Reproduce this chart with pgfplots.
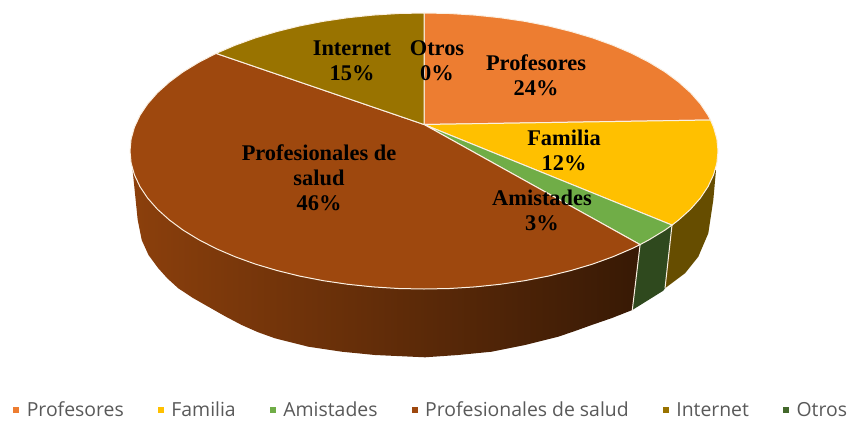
\documentclass[border=0pt]{standalone}
\usepackage{fontspec}
\setmainfont{Liberation Serif}
\newfontfamily\legendfont{Open Sans}
\usepackage{pgfplots}
\pgfplotsset{compat=1.18}
\definecolor{cProf}{HTML}{ED7D31}
\definecolor{cFam}{HTML}{FFC000}
\definecolor{cAmi}{HTML}{70AD47}
\definecolor{cSal}{HTML}{9E480E}
\definecolor{cInt}{HTML}{997300}
\definecolor{cOtr}{HTML}{43682B}
\definecolor{edge}{HTML}{FBF0E2}
\newcommand{\lab}{\bfseries\fontsize{22.4}{25}\selectfont}
\begin{document}
\begin{tikzpicture}
\begin{axis}[
  scale only axis, width=849pt, height=421pt,
  xmin=0, xmax=849, ymin=0, ymax=421, y dir=reverse,
  hide axis, no markers,
  legend columns=6,
  legend cell align=left,
  legend image code/.code={\fill[#1] (0pt,-2.6pt) rectangle (5.2pt,2.6pt);},
  legend style={draw=none, fill=none, at={(axis cs:13,410)}, anchor=west,
    inner xsep=0pt, inner ysep=0pt,
    font=\legendfont\fontsize{19.4}{20}\selectfont\color[HTML]{595959},
    /tikz/every even column/.append style={column sep=32pt},
    /tikz/every odd column/.append style={column sep=6pt}},
]
\addlegendimage{cProf}
\addlegendimage{cFam}
\addlegendimage{cAmi}
\addlegendimage{cSal}
\addlegendimage{cInt}
\addlegendimage{cOtr}
% side wall: Profesionales de salud
\addplot[forget plot, draw=none, left color=cSal!88!black, middle color=cSal!50!black, right color=cSal!35!black] coordinates {
(132.6,170)(134.5,175)(140,186.7)(147.7,198.2)(157.5,209.3)(169.4,220)(183.2,230.2)(198.8,239.7)(216.1,248.6)(235,256.7)(255.4,264.1)(277,270.5)(299.7,276.1)(323.4,280.7)(347.9,284.3)(373,286.9)(398.4,288.5)(424,289)(449.6,288.5)(475,286.9)(500.1,284.3)(524.6,280.7)(548.3,276.1)(571,270.5)(592.6,264.1)(613,256.7)(631.9,248.6)(640.1,244.6)
(632.3,310)(612,318)(591.7,325)(575,331)(558.3,336.7)(525,345)(491.7,351.7)(458,355)(425,357.3)(375,355)(341.7,351.7)(308.3,346.7)(275,338.3)(258,332.2)(241.7,325)(225,316.2)(208.3,306.7)(193,298)(178.3,288.3)(167.5,278.5)(158.3,268.3)(148.5,255)(141.7,240)(137.7,220)
} -- cycle;
% side wall: Otros / Amistades
\addplot[forget plot, draw=none, fill=cOtr!70!black] coordinates {
(640.1,244.6)(649.2,239.7)(664.8,230.2)(672,225.1)(665,288.3)(663.3,290.7)(650,299)(632.3,310)
} -- cycle;
% side wall: Familia
\addplot[forget plot, draw=none, fill=cFam!40!black] coordinates {
(672,225.1)(678.6,220)(690.5,209.3)(700.3,198.2)(708,186.7)(713.5,175)(715.2,170)(716,170)(713.3,200)(708.3,233.3)(698.3,256.7)(685,273.3)(665,288.3)
} -- cycle;
\addplot[forget plot, edge, line width=1pt] coordinates {(640.1,244.6)(632.3,310)};
\addplot[forget plot, edge, line width=1pt] coordinates {(672,225.1)(665,288.3)};
% top surface
\addplot[forget plot, fill=cProf, draw=edge, line width=1pt] coordinates {
(424,124.5)(424,13)(449.6,13.5)(475,15.1)(500.1,17.7)(524.6,21.3)(548.3,25.9)(571,31.5)(592.6,37.9)(613,45.3)(631.9,53.4)(649.2,62.3)(664.8,71.8)(678.6,82)(690.5,92.7)(700.3,103.8)(708,115.3)(710.5,120)
} -- cycle;
\addplot[forget plot, fill=cFam, draw=edge, line width=1pt] coordinates {
(424,124.5)(710.5,120)(713.5,127)(716.9,139)(718,151)(716.9,163)(713.5,175)(708,186.7)(700.3,198.2)(690.5,209.3)(678.6,220)(672,225.1)
} -- cycle;
\addplot[forget plot, fill=cAmi, draw=edge, line width=1pt] coordinates {
(424,124.5)(672,225.1)(664.8,230.2)(649.2,239.7)(640.1,244.6)
} -- cycle;
\addplot[forget plot, fill=cSal, draw=edge, line width=1pt] coordinates {
(424,124.5)(640.1,244.6)(631.9,248.6)(613,256.7)(592.6,264.1)(571,270.5)(548.3,276.1)(524.6,280.7)(500.1,284.3)(475,286.9)(449.6,288.5)(424,289)(398.4,288.5)(373,286.9)(347.9,284.3)(323.4,280.7)(299.7,276.1)(277,270.5)(255.4,264.1)(235,256.7)(216.1,248.6)(198.8,239.7)(183.2,230.2)(169.4,220)(157.5,209.3)(147.7,198.2)(140,186.7)(134.5,175)(131.1,163)(130,151)(131.1,139)(134.5,127)(140,115.3)(147.7,103.8)(157.5,92.7)(169.4,82)(183.2,71.8)(198.8,62.3)(216.1,53.4)
} -- cycle;
\addplot[forget plot, fill=cInt, draw=edge, line width=1pt] coordinates {
(424,124.5)(216.1,53.4)(235,45.3)(255.4,37.9)(277,31.5)(299.7,25.9)(323.4,21.3)(347.9,17.7)(373,15.1)(398.4,13.5)(424,13)
} -- cycle;
% data labels
\node[align=center, font=\lab] at (axis cs:352,60.5) {Internet\\15\%};
\node[align=center, font=\lab] at (axis cs:437,60.5) {Otros\\0\%};
\node[align=center, font=\lab] at (axis cs:536,75) {Profesores\\24\%};
\node[align=center, font=\lab] at (axis cs:564,150) {Familia\\12\%};
\node[align=center, font=\lab] at (axis cs:542,210) {Amistades\\3\%};
\node[align=center, font=\lab] at (axis cs:319,178) {Profesionales de\\salud\\46\%};
\legend{Profesores,Familia,Amistades,Profesionales de salud,Internet,Otros}
\end{axis}
\pgfresetboundingbox
\path[use as bounding box] (current axis.south west) rectangle (current axis.north east);
\end{tikzpicture}
\end{document}
